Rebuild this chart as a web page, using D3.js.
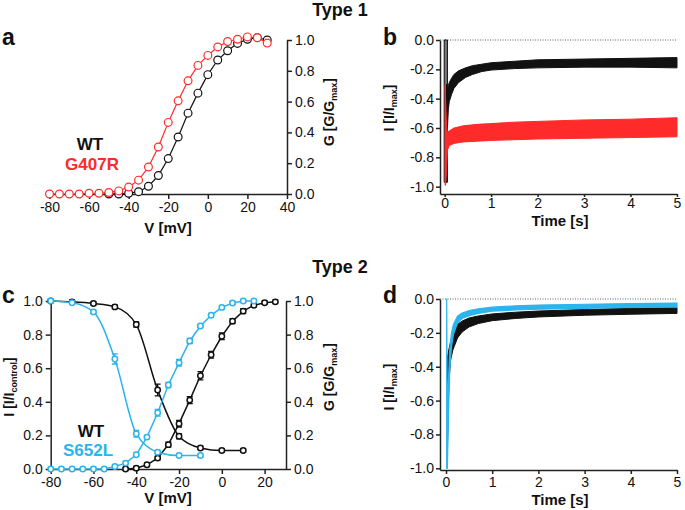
<!DOCTYPE html>
<html>
<head>
<meta charset="utf-8">
<script src="https://cdn.jsdelivr.net/npm/d3@7"></script>
<style>
body { margin: 0; background: #fff; }
svg text { font-family: "Liberation Sans", Arial, sans-serif; }
</style>
</head>
<body>
<svg width="685" height="510"></svg>
<script>
// ---- panel a: G-V, WT vs G407R
const aVoltWT = [-50, -45, -40, -35, -30, -25, -20, -15, -10, -5, 0, 5, 10, 15, 20, 25, 30];
const aGWT = [0, 0, 0.005, 0.015, 0.05, 0.12, 0.23, 0.37, 0.525, 0.655, 0.775, 0.87, 0.93, 0.978, 1.005, 1.015, 1.0];
const aVoltMut = [-80, -75, -70, -65, -60, -55, -50, -45, -40, -35, -30, -25, -20, -15, -10, -5, 0, 5, 10, 15, 20, 25, 30];
const aGMut = [0, 0, 0, 0, 0.005, 0.005, 0.01, 0.02, 0.045, 0.09, 0.175, 0.305, 0.465, 0.605, 0.735, 0.835, 0.9, 0.955, 0.99, 1.005, 1.02, 1.015, 0.98];

// ---- panel b: current traces (noise band edges)
const bBlackT = [0.04, 0.06, 0.08, 0.1, 0.15, 0.2, 0.3, 0.45, 0.6, 0.8, 1.0, 1.5, 2, 3, 4, 5];
const bBlackHi = [-0.3, -0.33, -0.31, -0.29, -0.26, -0.235, -0.21, -0.19, -0.175, -0.165, -0.155, -0.145, -0.135, -0.13, -0.125, -0.12];
const bBlackLo = [-0.97, -0.6, -0.47, -0.42, -0.37, -0.33, -0.29, -0.255, -0.235, -0.215, -0.205, -0.195, -0.19, -0.185, -0.185, -0.19];
const bSpikeT = [-0.01, 0.06];
const bSpikeHi = [0, 0];
const bSpikeLo = [-0.97, -0.97];
const bRedT = [0.01, 0.02, 0.04, 0.06, 0.1, 0.2, 0.4, 0.7, 1, 1.5, 2, 3, 4, 5];
const bRedHi = [-0.31, -0.4, -0.58, -0.63, -0.62, -0.6, -0.585, -0.575, -0.57, -0.56, -0.555, -0.545, -0.54, -0.53];
const bRedLo = [-0.99, -0.99, -0.9, -0.75, -0.72, -0.705, -0.695, -0.69, -0.685, -0.68, -0.675, -0.67, -0.665, -0.66];

// ---- panel c: activation / inactivation, WT vs S652L
const cVoltInWT = [-80, -70, -60, -50, -40, -30, -20, -10, 0, 10];
const cInWT = [1.0, 0.995, 0.985, 0.965, 0.86, 0.47, 0.195, 0.125, 0.11, 0.11];
const cInWTErr = [0.01, 0.01, 0.01, 0.01, 0.015, 0.035, 0.015, 0.01, 0.01, 0.01];
const cVoltInMut = [-80, -70, -60, -50, -40, -30, -20, -10];
const cInMut = [1.0, 0.99, 0.935, 0.655, 0.21, 0.1, 0.08, 0.08];
const cInMutErr = [0.01, 0.01, 0.01, 0.03, 0.02, 0.01, 0.01, 0.01];
const cVoltActWT = [-45, -40, -35, -30, -25, -20, -15, -10, -5, 0, 5, 10, 15, 20, 25];
const cActWT = [0, 0.005, 0.025, 0.065, 0.145, 0.27, 0.41, 0.555, 0.68, 0.79, 0.88, 0.94, 0.975, 0.99, 0.995];
const cActWTErr = [0.01, 0.01, 0.01, 0.01, 0.015, 0.02, 0.02, 0.025, 0.02, 0.02, 0.015, 0.015, 0.01, 0.01, 0.01];
const cVoltActMut = [-80, -75, -70, -65, -60, -55, -50, -45, -40, -35, -30, -25, -20, -15, -10, -5, 0, 5, 10, 15];
const cActMut = [0, 0, 0, 0, 0, 0, 0.015, 0.035, 0.085, 0.19, 0.335, 0.5, 0.633, 0.762, 0.851, 0.915, 0.962, 0.988, 1.0, 1.0];
const cActMutErr = [0.01, 0.01, 0.01, 0.01, 0.01, 0.01, 0.01, 0.01, 0.01, 0.01, 0.02, 0.015, 0.02, 0.015, 0.01, 0.01, 0.01, 0.01, 0.01, 0.01];

// ---- panel d: current traces
const dBlackT = [0.03, 0.06, 0.1, 0.15, 0.25, 0.35, 0.5, 0.7, 1, 1.5, 2, 3, 4, 5];
const dBlackHi = [-0.35, -0.3, -0.25, -0.2, -0.15, -0.13, -0.112, -0.1, -0.088, -0.078, -0.071, -0.062, -0.055, -0.05];
const dBlackLo = [-0.9, -0.5, -0.36, -0.3, -0.23, -0.195, -0.165, -0.145, -0.128, -0.115, -0.106, -0.096, -0.09, -0.085];
const dCyanT = [0.015, 0.03, 0.05, 0.08, 0.12, 0.16, 0.25, 0.35, 0.5, 0.7, 1, 1.5, 2, 3, 4, 5];
const dCyanHi = [0, -0.85, -0.5, -0.3, -0.2, -0.15, -0.1, -0.083, -0.068, -0.058, -0.048, -0.041, -0.036, -0.031, -0.027, -0.024];
const dCyanLo = [-1.0, -1.0, -0.72, -0.42, -0.28, -0.21, -0.14, -0.115, -0.098, -0.085, -0.072, -0.065, -0.06, -0.055, -0.05, -0.048];

const gvTicks = [0, 0.2, 0.4, 0.6, 0.8, 1.0];
const iTicks = [0, -0.2, -0.4, -0.6, -0.8, -1.0];
const voltTicksA = [-80, -60, -40, -20, 0, 20, 40];
const voltTicksC = [-80, -60, -40, -20, 0, 20];
const timeTicks = [0, 1, 2, 3, 4, 5];

const RED = "#ff2a2a";
const CYAN = "#2cb4ec";
const svg = d3.select("svg");

function styleAxis(g) {
	g.attr("font-size", 14).attr("font-family", null);
	g.select(".domain").attr("stroke", "#222").attr("stroke-width", 1.5);
	g.selectAll(".tick line").attr("stroke", "#222").attr("stroke-width", 1.5);
	g.selectAll(".tick text").attr("fill", "#111");
}

function addAxis(axis, x, y, size, pad) {
	svg.append("g")
		.attr("transform", `translate(${x},${y})`)
		.call(axis.tickSizeOuter(0).tickSizeInner(size || 5).tickPadding(pad || 3))
		.call(styleAxis);
}

function text(x, y, str, size, color, anchor) {
	return svg.append("text")
		.attr("x", x).attr("y", y)
		.attr("font-size", size)
		.attr("font-weight", "bold")
		.attr("fill", color || "#111")
		.attr("text-anchor", anchor || "middle")
		.text(str);
}

function vLabel(x, y, main, sub) {
	const t = svg.append("text")
		.attr("transform", `translate(${x},${y}) rotate(-90)`)
		.attr("text-anchor", "middle")
		.attr("font-weight", "bold")
		.attr("font-size", 14)
		.attr("fill", "#111");
	t.append("tspan").text(main);
	t.append("tspan").attr("font-size", 9).attr("dy", 3).text(sub);
	t.append("tspan").attr("dy", -3).text("]");
}

const fmt1 = d => d.toFixed(1);

// ================= panel a =================
const xa = d3.scaleLinear().domain([-80, 40]).range([49.5, 287]);
const ya = d3.scaleLinear().domain([0, 1]).range([194, 40]);

addAxis(d3.axisBottom(xa).tickValues(voltTicksA).tickFormat(d => d), 0, 194);
addAxis(d3.axisRight(ya).tickValues(gvTicks).tickFormat(fmt1), 287, 0);

function gvSeries(volts, vals, color) {
	const pts = volts.map((v, i) => [v, vals[i]]);
	svg.append("path")
		.datum(pts)
		.attr("fill", "none")
		.attr("stroke", color)
		.attr("stroke-width", 1.2)
		.attr("d", d3.line().x(d => xa(d[0])).y(d => ya(d[1])));
	svg.append("g").selectAll("circle")
		.data(pts)
		.join("circle")
		.attr("cx", d => xa(d[0]))
		.attr("cy", d => ya(d[1]))
		.attr("r", 3.9)
		.attr("fill", "#fff")
		.attr("stroke", color)
		.attr("stroke-width", 1.2);
}
gvSeries(aVoltWT, aGWT, "#111");
gvSeries(aVoltMut, aGMut, RED);

text(90, 150, "WT", 17, "#111");
text(92, 170, "G407R", 17, RED);
text(168, 233, "V [mV]", 15);
vLabel(334, 112, "G [G/G", "max");
text(2, 45, "a", 23, "#111", "start");
text(340, 16, "Type 1", 18);

// ================= traces (b, d) =================
function traceBand(x, y, t, hi, lo, fill, stroke, sw) {
	const pts = t.map((v, i) => [v, hi[i], lo[i]]);
	svg.append("path")
		.datum(pts)
		.attr("fill", fill)
		.attr("stroke", stroke || "none")
		.attr("stroke-width", sw || 0)
		.attr("stroke-linejoin", "round")
		.attr("d", d3.area().x(d => x(d[0])).y0(d => y(d[2])).y1(d => y(d[1])));
}

function zeroLine(x, y) {
	svg.append("line")
		.attr("x1", x.range()[0]).attr("x2", x.range()[1])
		.attr("y1", y(0)).attr("y2", y(0))
		.attr("stroke", "#333")
		.attr("stroke-width", 0.8)
		.attr("stroke-dasharray", "1,1.5");
}

// ---- panel b
const xb = d3.scaleLinear().domain([-0.1, 5]).range([440, 677]);
const yb = d3.scaleLinear().domain([-1.05, 0]).range([194, 40]);
addAxis(d3.axisBottom(xb).tickValues(timeTicks).tickFormat(d => d), 0, 194, 3, 1.5);
addAxis(d3.axisLeft(yb).tickValues(iTicks).tickFormat(fmt1), 440, 0, 4, 2);
zeroLine(xb, yb);
traceBand(xb, yb, bSpikeT, bSpikeHi, bSpikeLo, "#777", "#111", 1);
traceBand(xb, yb, bBlackT, bBlackHi, bBlackLo, "#111", "#111", 1);
traceBand(xb, yb, bRedT, bRedHi, bRedLo, RED, RED, 1);
text(560, 226, "Time [s]", 15);
vLabel(394, 108, "I [I/I", "max");
text(383, 45, "b", 23, "#111", "start");

// ================= panel c =================
const xc = d3.scaleLinear().domain([-80, 30]).range([50.7, 286]);
const yc = d3.scaleLinear().domain([0, 1]).range([469, 301]);
addAxis(d3.axisBottom(xc).tickValues(voltTicksC).tickFormat(d => d), 0, 469);
addAxis(d3.axisLeft(yc).tickValues(gvTicks).tickFormat(fmt1), 50.7, 0);
addAxis(d3.axisRight(yc).tickValues(gvTicks).tickFormat(fmt1), 286, 0);

function errSeries(volts, vals, errs, color, curve) {
	const pts = volts.map((v, i) => [v, vals[i], errs[i]]);
	svg.append("path")
		.datum(pts)
		.attr("fill", "none")
		.attr("stroke", color)
		.attr("stroke-width", 1.5)
		.attr("d", d3.line().curve(curve).x(d => xc(d[0])).y(d => yc(d[1])));
	const g = svg.append("g").attr("stroke", color).attr("stroke-width", 1.3);
	g.selectAll("path")
		.data(pts)
		.join("path")
		.attr("fill", "none")
		.attr("d", d => {
			const cx = xc(d[0]), y0 = yc(d[1] - d[2]), y1 = yc(d[1] + d[2]);
			return `M${cx},${y0}V${y1}M${cx - 3},${y0}H${cx + 3}M${cx - 3},${y1}H${cx + 3}`;
		});
	g.selectAll("circle")
		.data(pts)
		.join("circle")
		.attr("cx", d => xc(d[0]))
		.attr("cy", d => yc(d[1]))
		.attr("r", 2.7)
		.attr("fill", "#fff")
		.attr("stroke-width", 1.5);
}
errSeries(cVoltInWT, cInWT, cInWTErr, "#111", d3.curveMonotoneX);
errSeries(cVoltActWT, cActWT, cActWTErr, "#111", d3.curveLinear);
errSeries(cVoltInMut, cInMut, cInMutErr, CYAN, d3.curveMonotoneX);
errSeries(cVoltActMut, cActMut, cActMutErr, CYAN, d3.curveLinear);

text(91, 437, "WT", 17, "#111");
text(88, 456, "S652L", 17, CYAN);
text(168, 503, "V [mV]", 15);
vLabel(14, 387, "I [I/I", "control");
vLabel(334, 377, "G [G/G", "max");
text(2, 303, "c", 23, "#111", "start");
text(340, 273, "Type 2", 18);

// ---- panel d
const xd = d3.scaleLinear().domain([-0.13, 5]).range([440, 677]);
const yd = d3.scaleLinear().domain([-1.01, 0]).range([470, 299]);
addAxis(d3.axisBottom(xd).tickValues(timeTicks).tickFormat(d => d), 0, 470, 4, 3);
addAxis(d3.axisLeft(yd).tickValues(iTicks).tickFormat(fmt1), 440, 0, 4, 2);
zeroLine(xd, yd);
traceBand(xd, yd, dBlackT, dBlackHi, dBlackLo, "#111", "#111", 1);
traceBand(xd, yd, dCyanT, dCyanHi, dCyanLo, CYAN, CYAN, 1.2);
text(560, 505, "Time [s]", 15);
vLabel(394, 387, "I [I/I", "max");
text(383, 303, "d", 23, "#111", "start");
</script>
</body>
</html>
